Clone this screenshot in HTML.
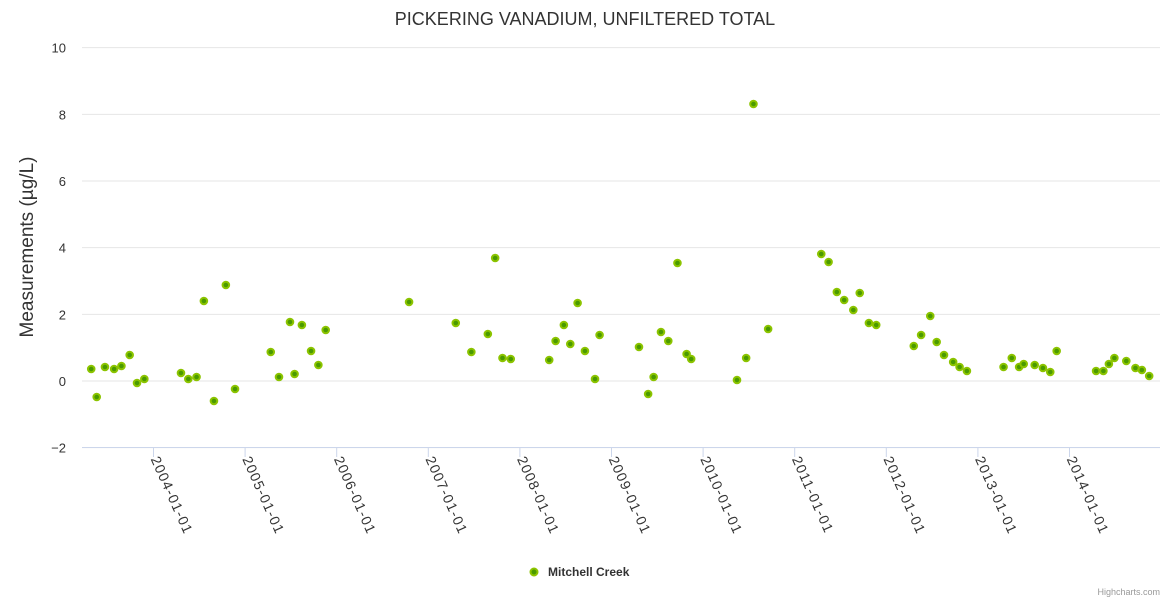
<!DOCTYPE html>
<html><head><meta charset="utf-8"><style>
html,body{margin:0;padding:0;background:#fff;}
svg{display:block;font-family:"Liberation Sans","DejaVu Sans",sans-serif;}
</style></head><body>
<svg id="chart" width="1170" height="600">
<text x="585" y="25" text-anchor="middle" font-size="18" fill="#333">PICKERING VANADIUM, UNFILTERED TOTAL</text>
<g id="grid"></g>
<g id="xaxis"></g>
<g id="points"></g>
<text transform="translate(33,247) rotate(-90)" text-anchor="middle" font-size="19" fill="#333">Measurements (µg/L)</text>
<g>
<circle cx="534" cy="572" r="3.5" fill="#4a9a00" stroke="#8cc400" stroke-width="2"/>
<text x="548" y="576" font-size="12" font-weight="bold" fill="#333">Mitchell Creek</text>
</g>
<text x="1160" y="595" text-anchor="end" font-size="9" fill="#999">Highcharts.com</text>
</svg>
<script>
const yTicks = [-2,0,2,4,6,8,10];
const xYears = [2004,2005,2006,2007,2008,2009,2010,2011,2012,2013,2014];
const dates = [2003.32,2003.38,2003.47,2003.57,2003.65,2003.74,2003.82,2003.90,2004.30,2004.38,2004.47,2004.55,2004.66,2004.79,2004.89,2005.28,2005.37,2005.49,2005.54,2005.62,2005.72,2005.80,2005.88,2006.79,2007.30,2007.47,2007.65,2007.73,2007.81,2007.90,2008.32,2008.39,2008.48,2008.55,2008.63,2008.71,2008.82,2008.87,2009.30,2009.40,2009.46,2009.54,2009.62,2009.72,2009.82,2009.87,2010.37,2010.47,2010.55,2010.71,2011.29,2011.37,2011.46,2011.54,2011.64,2011.71,2011.81,2011.89,2012.30,2012.38,2012.48,2012.55,2012.63,2012.73,2012.80,2012.88,2013.28,2013.37,2013.45,2013.50,2013.62,2013.71,2013.79,2013.86,2014.29,2014.37,2014.43,2014.49,2014.62,2014.72,2014.79,2014.87];
const values = [0.36,-0.48,0.42,0.36,0.45,0.78,-0.06,0.06,0.24,0.06,0.12,2.40,-0.60,2.88,-0.24,0.87,0.12,1.77,0.21,1.68,0.90,0.48,1.53,2.37,1.74,0.87,1.41,3.69,0.69,0.66,0.63,1.20,1.68,1.11,2.34,0.90,0.06,1.38,1.02,-0.39,0.12,1.47,1.20,3.54,0.81,0.66,0.03,0.69,8.31,1.56,3.81,3.57,2.67,2.43,2.13,2.64,1.74,1.68,1.05,1.38,1.95,1.17,0.78,0.57,0.42,0.30,0.42,0.69,0.42,0.51,0.48,0.39,0.27,0.90,0.30,0.30,0.51,0.69,0.60,0.39,0.33,0.15];
const NS='http://www.w3.org/2000/svg';
const L=82,R=1160;
function xs(t){return 153.5+(t-2004)*91.6;}
function ys(v){return 381-v*33.333;}
function mk(tag,attrs,parent){const e=document.createElementNS(NS,tag);for(const k in attrs)e.setAttribute(k,attrs[k]);parent.appendChild(e);return e;}
const grid=document.getElementById('grid');
yTicks.forEach(v=>{
  const y=ys(v);
  const ln=mk('line',{x1:L,x2:R,y1:y,y2:y,stroke:'#e6e6e6','stroke-width':1},grid);
  
  
  const t=mk('text',{x:66,y:y+5,'text-anchor':'end','font-size':13,fill:'#333'},grid);
  t.textContent=(v<0?'\u2212'+(-v):v);
  
  
});
const xa=document.getElementById('xaxis');
const axl=mk('line',{x1:L,x2:R,y1:447.5,y2:447.5,stroke:'#ccd6eb','stroke-width':1},xa);


xYears.forEach(yr=>{
  const x=xs(yr);
  const tk=mk('line',{x1:x,x2:x,y1:447.5,y2:457,stroke:'#ccd6eb'},xa);
  
  
  const t=mk('text',{x:x-3,y:459,'font-size':14,'letter-spacing':1.2,fill:'#333',transform:`rotate(66 ${x-3} 459)`},xa);
  t.textContent=yr+'-01-01';
  
  
});
const pg=document.getElementById('points');
dates.forEach((d,i)=>{
  const c=mk('circle',{cx:xs(d),cy:ys(values[i]),r:3.3,fill:'#4a9a00',stroke:'#8cc400','stroke-width':2},pg);
  
  
});
</script>
</body></html>
